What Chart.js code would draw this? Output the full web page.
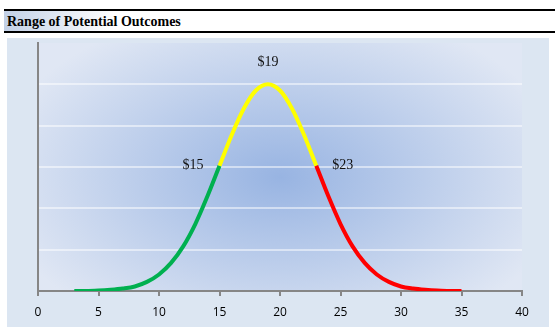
<!DOCTYPE html>
<html>
<head>
<meta charset="utf-8">
<script src="https://cdn.jsdelivr.net/npm/chart.js@4.4.1/dist/chart.umd.min.js"></script>
<style>
  body { margin: 0; width: 558px; height: 334px; background: #fff; position: relative; overflow: hidden; }
  #title {
    position: absolute; left: 4px; top: 9px; width: 548px; height: 20px;
    border-top: 2px solid #000; border-bottom: 2px solid #000;
    background: linear-gradient(to right, #c2d0e6 0px, #ffffff 110px);
    font: bold 14px "Liberation Serif", serif; line-height: 21px;
    padding-left: 3px; box-sizing: content-box; color: #000;
  }
  #chart { position: absolute; left: 7px; top: 38px; }
</style>
</head>
<body>
<div id="title">Range of Potential Outcomes</div>
<canvas id="chart" width="542" height="289"></canvas>
<script>
"use strict";

// curve (x = price, y = relative likelihood)
const xValues = [3, 4, 5, 6, 7, 8, 9, 10, 11, 12, 13, 14, 15, 16, 17, 18, 19,
  20, 21, 22, 23, 24, 25, 26, 27, 28, 29, 30, 31, 32, 33, 34, 35];
const yValues = [0, 0, 0.01, 0.03, 0.06, 0.11, 0.22, 0.4, 0.68, 1.08, 1.62, 2.29, 3.03, 3.77, 4.41, 4.85, 5,
  4.85, 4.41, 3.77, 3.03, 2.29, 1.62, 1.08, 0.68, 0.4, 0.22, 0.11, 0.06, 0.03, 0.01, 0, 0];

// where the colour changes
const breakPoints = [15, 23];
const segmentColors = ["#00b050", "#ffff00", "#ff0000"];

// callout labels on the curve
const calloutX = [15, 19, 23];
const calloutText = ["$15", "$19", "$23"];

const xTicks = [0, 5, 10, 15, 20, 25, 30, 35, 40];

function colorFor(x) {
  if (x < breakPoints[0]) return segmentColors[0];
  if (x < breakPoints[1]) return segmentColors[1];
  return segmentColors[2];
}

const points = [];
for (let i = 0; i < xValues.length; i++) {
  points.push({ x: xValues[i], y: yValues[i] });
}

// panel + blue glow behind the plot
const backgroundPlugin = {
  id: "bg",
  beforeDraw(chart) {
    const ctx = chart.ctx;
    const area = chart.chartArea;
    ctx.save();
    ctx.fillStyle = "#dce6f2";
    ctx.fillRect(0, 0, chart.width, chart.height);
    const cx = (area.left + area.right) / 2;
    const cy = (area.top + area.bottom) / 2 + 10;
    ctx.beginPath();
    ctx.rect(area.left, area.top, area.right - area.left, area.bottom - area.top);
    ctx.clip();
    ctx.translate(cx, cy);
    ctx.scale(1, 0.6);
    const g = ctx.createRadialGradient(0, 0, 0, 0, 0, 290);
    g.addColorStop(0, "#98b4e2");
    g.addColorStop(1, "#e0e7f4");
    ctx.fillStyle = g;
    ctx.fillRect(-400, -400, 800, 800);
    ctx.restore();
  }
};

const calloutPlugin = {
  id: "callouts",
  afterDatasetsDraw(chart) {
    const ctx = chart.ctx;
    const xs = chart.scales.x;
    const ys = chart.scales.y;
    ctx.save();
    ctx.font = '14px "Liberation Serif", serif';
    ctx.fillStyle = "#111";
    ctx.textBaseline = "middle";
    for (let i = 0; i < calloutX.length; i++) {
      const idx = xValues.indexOf(calloutX[i]);
      const px = xs.getPixelForValue(calloutX[i]);
      const py = ys.getPixelForValue(yValues[idx]);
      if (i === 0) {
        ctx.textAlign = "right";
        ctx.fillText(calloutText[i], px - 16, py);
      } else if (i === calloutX.length - 1) {
        ctx.textAlign = "left";
        ctx.fillText(calloutText[i], px + 16, py);
      } else {
        ctx.textAlign = "center";
        ctx.fillText(calloutText[i], px, py - 22);
      }
    }
    ctx.restore();
  }
};

const config = {
  type: "line",
  data: {
    datasets: [{
      data: points,
      borderWidth: 4,
      borderColor: segmentColors[0],
      borderCapStyle: "butt",
      pointRadius: 0,
      cubicInterpolationMode: "monotone",
      segment: {
        borderColor: (ctx) => colorFor(ctx.p0.parsed.x)
      }
    }]
  },
  options: {
    responsive: false,
    animation: false,
    layout: { padding: { left: 31, top: 5, right: 27, bottom: 0 } },
    plugins: { legend: { display: false }, tooltip: { enabled: false } },
    scales: {
      x: {
        type: "linear",
        min: 0,
        max: 40,
        afterBuildTicks: (scale) => { scale.ticks = xTicks.map((v) => ({ value: v })); },
        afterFit: (scale) => { scale.height = 36; },
        ticks: {
          color: "#000",
          font: { family: '"Open Sans", sans-serif', size: 12 },
          padding: 9,
          maxRotation: 0
        },
        grid: { drawOnChartArea: false, drawTicks: true, tickLength: 5, color: "#868686", lineWidth: 2 },
        border: { color: "#868686", width: 2 }
      },
      y: {
        min: 0,
        max: 6,
        ticks: { display: false, stepSize: 1 },
        afterFit: (scale) => { scale.width = 0; },
        grid: {
          drawTicks: false,
          lineWidth: 2,
          color: (ctx) => (ctx.tick.value === 0 || ctx.tick.value === 6) ? "rgba(0,0,0,0)" : "rgba(255,255,255,0.5)"
        },
        border: { color: "#868686", width: 2 }
      }
    }
  },
  plugins: [backgroundPlugin, calloutPlugin]
};

const myChart = new Chart(document.getElementById("chart"), config);
</script>
</body>
</html>
